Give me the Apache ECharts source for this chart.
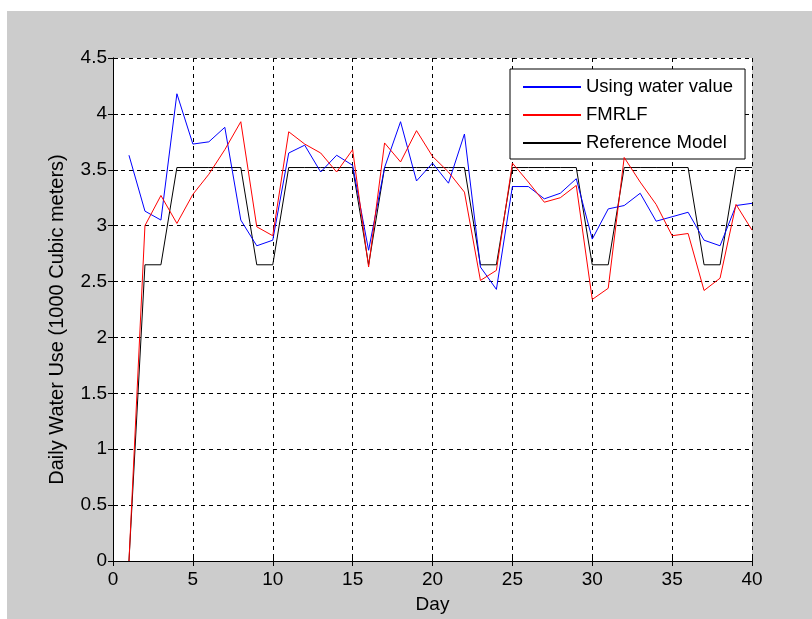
<!DOCTYPE html>
<html>
<head>
<meta charset="utf-8">
<title>Daily Water Use</title>
<script src="https://cdn.jsdelivr.net/npm/echarts@6/dist/echarts.min.js"></script>
<style>
	html, body { margin: 0; padding: 0; background: #fff; }
	#chart { width: 812px; height: 619px; }
</style>
</head>
<body>
<div id="chart"></div>
<script>
// values
var days = [1, 2, 3, 4, 5, 6, 7, 8, 9, 10, 11, 12, 13, 14, 15, 16, 17, 18, 19, 20,
	21, 22, 23, 24, 25, 26, 27, 28, 29, 30, 31, 32, 33, 34, 35, 36, 37, 38, 39, 40];
var waterValue = [3.63, 3.13, 3.05, 4.18, 3.73, 3.75, 3.88, 3.05, 2.82, 2.87,
	3.65, 3.72, 3.48, 3.63, 3.54, 2.78, 3.52, 3.93, 3.40, 3.56,
	3.38, 3.82, 2.63, 2.43, 3.35, 3.35, 3.24, 3.29, 3.42, 2.88,
	3.15, 3.18, 3.29, 3.04, 3.08, 3.12, 2.87, 2.82, 3.18, 3.20];
var fmrlf = [0, 3.00, 3.27, 3.02, 3.28, 3.46, 3.68, 3.93, 2.99, 2.91,
	3.84, 3.73, 3.65, 3.48, 3.68, 2.63, 3.74, 3.57, 3.85, 3.62,
	3.48, 3.30, 2.51, 2.60, 3.56, 3.39, 3.21, 3.25, 3.36, 2.34,
	2.44, 3.61, 3.39, 3.19, 2.91, 2.93, 2.42, 2.53, 3.19, 2.96];
var refModel = [0, 2.65, 2.65, 3.52, 3.52, 3.52, 3.52, 3.52, 2.65, 2.65,
	3.52, 3.52, 3.52, 3.52, 3.52, 2.65, 3.52, 3.52, 3.52, 3.52,
	3.52, 3.52, 2.65, 2.65, 3.52, 3.52, 3.52, 3.52, 3.52, 2.65,
	2.65, 3.52, 3.52, 3.52, 3.52, 3.52, 2.65, 2.65, 3.52, 3.52];
var seriesNames = ['Using water value', 'FMRLF', 'Reference Model'];
var seriesColors = ['#0000ff', '#ff0000', '#000000'];

var font = '"Liberation Sans", Arial, sans-serif';

function pairs(vals) {
	var out = [];
	for (var i = 0; i < days.length; i++) {
		out.push([days[i], vals[i]]);
	}
	return out;
}

var chart = echarts.init(document.getElementById('chart'), null, { renderer: 'canvas' });

var tickStyle = { inside: true, length: 5, lineStyle: { color: '#000', width: 1 } };
var frameLine = { show: true, lineStyle: { color: '#000', width: 1 } };
var dashGrid = { show: true, lineStyle: { color: '#000', width: 1, type: [4, 4] } };

chart.setOption({
	animation: false,
	backgroundColor: '#fff',
	graphic: [
		{
			type: 'rect',
			z: -10,
			silent: true,
			shape: { x: 7, y: 11, width: 805, height: 608 },
			style: { fill: '#cccccc' }
		}
	],
	grid: {
		left: 113,
		top: 58,
		right: 60,
		bottom: 56,
		show: true,
		backgroundColor: '#fff',
		borderWidth: 0
	},
	legend: {
		orient: 'vertical',
		left: 510,
		top: 69,
		padding: [8, 12, 6, 12],
		itemWidth: 58,
		itemHeight: 20,
		itemGap: 8,
		borderColor: '#000',
		borderWidth: 1,
		backgroundColor: '#fff',
		// hide the marker dot, keep only the line
		itemStyle: { opacity: 0 },
		data: seriesNames,
		textStyle: { fontFamily: font, fontSize: 18.5, color: '#000', lineHeight: 20 }
	},
	xAxis: [
		{
			type: 'value',
			min: 0,
			max: 40,
			interval: 5,
			name: 'Day',
			nameLocation: 'middle',
			nameGap: 34,
			nameTextStyle: { fontFamily: font, fontSize: 19, color: '#000' },
			axisLine: frameLine,
			axisTick: tickStyle,
			axisLabel: { fontFamily: font, fontSize: 19, color: '#000', margin: 9 },
			splitLine: dashGrid
		},
		{
			type: 'value',
			position: 'top',
			min: 0,
			max: 40,
			interval: 5,
			axisLine: frameLine,
			axisTick: tickStyle,
			axisLabel: { show: false },
			splitLine: { show: false }
		}
	],
	yAxis: [
		{
			type: 'value',
			min: 0,
			max: 4.5,
			interval: 0.5,
			name: 'Daily Water Use (1000 Cubic meters)',
			nameLocation: 'middle',
			nameGap: 46,
			nameTextStyle: { fontFamily: font, fontSize: 20, color: '#000', padding: [0, 20, 0, 0] },
			axisLine: frameLine,
			axisTick: tickStyle,
			axisLabel: { fontFamily: font, fontSize: 19, color: '#000', margin: 6 },
			splitLine: dashGrid
		},
		{
			type: 'value',
			position: 'right',
			min: 0,
			max: 4.5,
			interval: 0.5,
			axisLine: frameLine,
			axisTick: tickStyle,
			axisLabel: { show: false },
			splitLine: { show: false }
		}
	],
	series: [
		{
			name: seriesNames[0],
			type: 'line',
			symbol: 'none',
			color: seriesColors[0],
			lineStyle: { width: 1, color: seriesColors[0] },
			data: pairs(waterValue),
			z: 3
		},
		{
			name: seriesNames[1],
			type: 'line',
			symbol: 'none',
			color: seriesColors[1],
			lineStyle: { width: 1, color: seriesColors[1] },
			data: pairs(fmrlf),
			z: 4
		},
		{
			name: seriesNames[2],
			type: 'line',
			symbol: 'none',
			color: seriesColors[2],
			lineStyle: { width: 1, color: seriesColors[2] },
			data: pairs(refModel),
			z: 2
		}
	]
});
</script>
</body>
</html>
